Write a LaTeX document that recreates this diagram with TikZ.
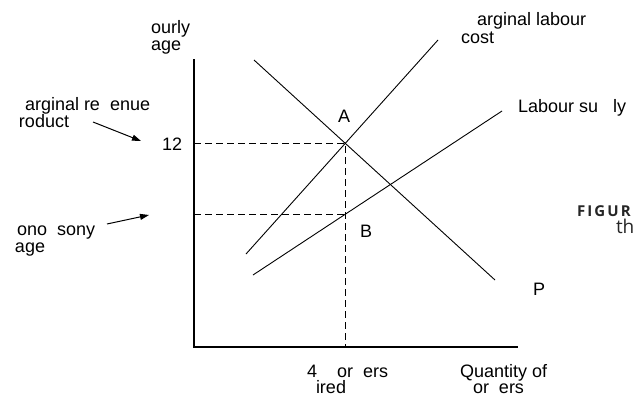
\documentclass[tikz,border=0pt]{standalone}
\usepackage{fontspec}
\setmainfont{Liberation Sans}
\newfontfamily\figfont{Open Sans}
\usetikzlibrary{arrows.meta}
\begin{document}
\begin{tikzpicture}[x=1pt,y=-1pt,
  font=\fontsize{18}{17}\selectfont,
  lbl/.style={anchor=base west, inner sep=0pt, outer sep=0pt},
  axis/.style={line width=1.3pt, black},
  curve/.style={line width=0.9pt, black},
  guide/.style={line width=0.8pt, black, dash pattern=on 7pt off 4pt},
  arr/.style={line width=1pt, -{Triangle[length=9pt,width=6pt]}},
  cut/.style={lbl, text=black!85, font=\figfont\bfseries\fontsize{15}{15}\selectfont}]
\useasboundingbox (0,0) rectangle (635,394);
% axes
\coordinate (Ytop) at (194,59);
\coordinate (O) at (194,347);
\coordinate (Xend) at (518,347);
\draw[axis] (Ytop) -- (O) -- (Xend);
% curves
\coordinate (mrp1) at (254,60);
\coordinate (mrp2) at (495,280);
\coordinate (mlc1) at (246,254);
\coordinate (mlc2) at (438,40);
\coordinate (ls1) at (253,275);
\coordinate (ls2) at (502,111);
\draw[curve] (mrp1) -- (mrp2);
\draw[curve] (mlc1) -- (mlc2);
\draw[curve] (ls1) -- (ls2);
% guides
\coordinate (pA) at (345,143);
\coordinate (pB) at (345,214);
\coordinate (y12) at (194,143);
\coordinate (ymw) at (194,214);
\coordinate (x4) at (345,347);
\draw[guide] (y12) -- (pA) -- (x4);
\draw[guide] (ymw) -- (pB);
% labels
\node[lbl] (hw1) at (151,33) {ourly};
\node[lbl] (hw2) at (151,50) {age};
\node[lbl] (mrp1t) at (25,110) {arginal re~~enue};
\node[lbl] (mrp2t) at (19,127) {roduct};
\node[lbl] (twelve) at (162,150) {12};
\node[lbl] (mono1) at (17,235) {ono~~sony};
\node[lbl] (mono2) at (15,252) {age};
\node[lbl] (labA) at (338,122) {A};
\node[lbl] (labB) at (360,237) {B};
\node[lbl] (labP) at (533,295) {P};
\node[lbl] (mlct1) at (477,25) {arginal labour};
\node[lbl] (mlct2) at (461,43) {cost};
\node[lbl] (lst) at (518,112) {Labour su~~~ly};
\node[lbl] (q4a) at (307,377) {4~~~~or~~ers};
\node[lbl] (q4b) at (316,393) {ired};
\node[lbl] (qa) at (460,377) {Quantity of};
\node[lbl] (qb) at (473,393) {or~~ers};
\node[cut] (fig) at (577,216) {\addfontfeature{LetterSpace=14}FIGUR};
\node[lbl, text=black!85, font=\figfont\fontsize{19}{19}\selectfont] (th) at (616,233) {th};
% arrows
\coordinate (a1s) at (93,122);
\coordinate (a1e) at (141,141);
\coordinate (a2s) at (107,224);
\coordinate (a2e) at (149,215);
\draw[arr] (a1s) -- (a1e);
\draw[arr] (a2s) -- (a2e);
\end{tikzpicture}
\end{document}
